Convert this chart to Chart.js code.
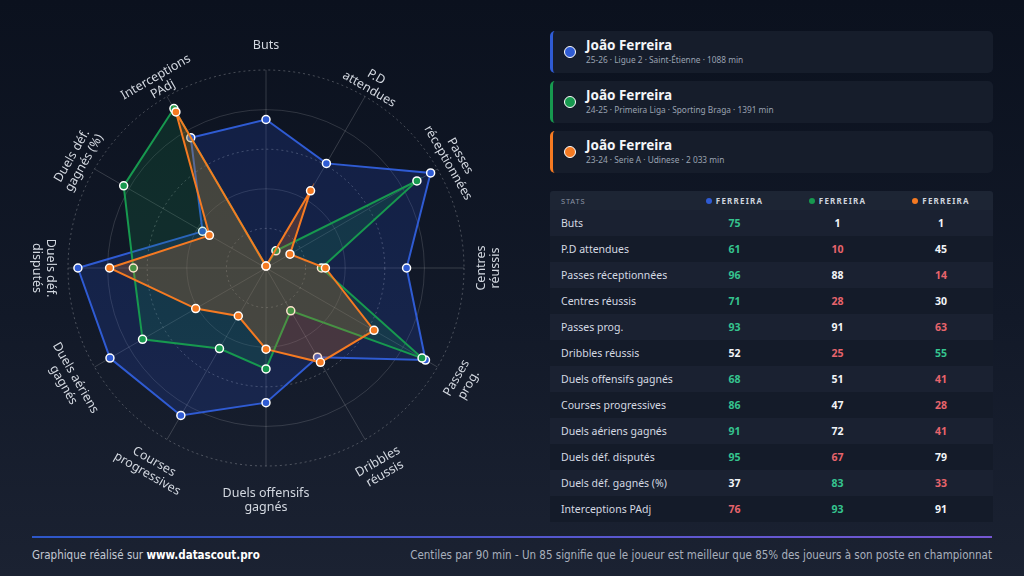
<!DOCTYPE html>
<html lang="fr">
<head>
<meta charset="utf-8">
<script src="https://cdn.jsdelivr.net/npm/chart.js@4.4.1/dist/chart.umd.min.js"></script>
<style>
    html, body { margin: 0; padding: 0; }
    body {
        width: 1024px; height: 576px; overflow: hidden; position: relative;
        background: linear-gradient(180deg, #0b111e 0%, #121928 55%, #1b2232 100%);
        font-family: "Noto Sans", "Open Sans", sans-serif; color: #e6e9ef;
    }
    #radarWrap { position: absolute; left: 0; top: 0; width: 533px; height: 533px; }
    .card {
        position: absolute; left: 550px; width: 443px; height: 42px;
        background: #161d2b; border-radius: 5px; border-left: 3px solid;
        box-sizing: border-box;
    }
    .card .dot {
        position: absolute; left: 11px; top: 15px; width: 10px; height: 10px;
        border-radius: 50%; border: 1.5px solid #fff;
    }
    .card .name { position: absolute; left: 33px; top: 5px; font-size: 13.5px; font-weight: 700; color: #f3f5f8; }
    .card .meta { position: absolute; left: 33px; top: 23px; font-size: 8.3px; color: #9aa2b1; }
    #table { position: absolute; left: 550px; top: 191px; width: 443px; }
    .row { display: grid; grid-template-columns: 133px 103px 103px 104px; height: 26px; align-items: center; }
    .row.head { height: 19px; background: #1d2534; border-radius: 3px 3px 0 0; }
    .row.odd { background: #1a2131; }
    .row.even { background: #141b29; }
    .row .lbl { padding-left: 11px; font-size: 10.5px; color: #d4d9e1; }
    .row .val { text-align: center; font-size: 10.5px; font-weight: 700; }
    .head .lbl { font-size: 7.5px; color: #8a93a3; letter-spacing: 0.8px; }
    .head .val { font-size: 8px; color: #cfd5de; letter-spacing: 1.2px; }
    .head .hdot { display: inline-block; width: 6px; height: 6px; border-radius: 50%; margin-right: 4px; vertical-align: 0px; }
    #rule {
        position: absolute; left: 32px; top: 536px; width: 960px; height: 2px;
        background: linear-gradient(90deg, #2d57c9, #7557d2);
    }
    .foot {
        position: absolute; top: 548px; font-family: "Liberation Sans Narrow", "DejaVu Sans Condensed", sans-serif;
        font-size: 11.5px; color: #c3c9d4;
    }
</style>
</head>
<body>
<div id="radarWrap"><canvas id="radar"></canvas></div>
<div id="cards"></div>
<div id="table"></div>
<div id="rule"></div>
<div class="foot" style="left:32px">Graphique réalisé sur <b style="color:#fff">www.datascout.pro</b></div>
<div class="foot" style="right:32px;color:#a9b0bd">Centiles par 90 min - Un 85 signifie que le joueur est meilleur que 85% des joueurs à son poste en championnat</div>

<script>
// Libellés des axes (sur deux lignes)
const axisLabels = [
    ['Buts'], ['P.D', 'attendues'], ['Passes', 'réceptionnées'], ['Centres', 'réussis'],
    ['Passes', 'prog.'], ['Dribbles', 'réussis'], ['Duels offensifs', 'gagnés'], ['Courses', 'progressives'],
    ['Duels aériens', 'gagnés'], ['Duels déf.', 'disputés'], ['Duels déf.', 'gagnés (%)'], ['Interceptions', 'PAdj']
];
const statNames = [
    'Buts', 'P.D attendues', 'Passes réceptionnées', 'Centres réussis', 'Passes prog.', 'Dribbles réussis',
    'Duels offensifs gagnés', 'Courses progressives', 'Duels aériens gagnés', 'Duels déf. disputés',
    'Duels déf. gagnés (%)', 'Interceptions PAdj'
];

// Centiles par saison
const stEtienne2526 = [75, 61, 96, 71, 93, 52, 68, 86, 91, 95, 37, 76];
const braga2425 = [1, 10, 88, 28, 91, 25, 51, 47, 72, 67, 83, 93];
const udinese2324 = [1, 45, 14, 30, 63, 55, 41, 28, 41, 79, 33, 91];

const playerNames = ['João Ferreira', 'João Ferreira', 'João Ferreira'];
const playerMeta = [
    '25-26 · Ligue 2 · Saint-Étienne · 1088 min',
    '24-25 · Primeira Liga · Sporting Braga · 1391 min',
    '23-24 · Serie A · Udinese · 2 033 min'
];
const headerNames = ['FERREIRA', 'FERREIRA', 'FERREIRA'];

const colors = ['#2f5bd3', '#17994f', '#f57a22'];
const fills = ['rgba(40, 80, 210, 0.20)', 'rgba(22, 150, 75, 0.18)', 'rgba(245, 122, 34, 0.22)'];
const drawOrder = [2, 1, 0]; // bleu en dessous, orange au-dessus
const series = [stEtienne2526, braga2425, udinese2324];

// Cartes joueurs
const cards = document.getElementById('cards');
playerNames.forEach((n, i) => {
    const c = document.createElement('div');
    c.className = 'card';
    c.style.top = (31 + i * 50) + 'px';
    c.style.borderLeftColor = colors[i];
    c.innerHTML = '<div class="dot" style="background:' + colors[i] + '"></div>' +
        '<div class="name">' + n + '</div><div class="meta">' + playerMeta[i] + '</div>';
    cards.appendChild(c);
});

// Tableau des stats
const table = document.getElementById('table');
let html = '<div class="row head"><div class="lbl">STATS</div>';
headerNames.forEach((h, i) => {
    html += '<div class="val"><span class="hdot" style="background:' + colors[i] + '"></span>' + h + '</div>';
});
html += '</div>';
statNames.forEach((s, r) => {
    const vals = series.map(d => d[r]);
    const max = Math.max(...vals), min = Math.min(...vals);
    const nMax = vals.filter(v => v === max).length;
    const nMin = vals.filter(v => v === min).length;
    html += '<div class="row ' + (r % 2 ? 'even' : 'odd') + '"><div class="lbl">' + s + '</div>';
    vals.forEach(v => {
        let col = '#f2f4f7';
        if (v === max && nMax === 1) col = '#35c48f';
        else if (v === min && nMin === 1) col = '#e7646c';
        html += '<div class="val" style="color:' + col + '">' + v + '</div>';
    });
    html += '</div>';
});
table.innerHTML = html;

// Libellés tournés autour du radar
const rotatedLabels = {
    id: 'rotatedLabels',
    afterDraw(chart) {
        const scale = chart.scales.r;
        const ctx = chart.ctx;
        ctx.save();
        ctx.font = '12.5px "Noto Sans"';
        ctx.fillStyle = '#d3d8e0';
        ctx.textAlign = 'center';
        ctx.textBaseline = 'middle';
        axisLabels.forEach((lines, i) => {
            const deg = i * 360 / axisLabels.length;
            const rad = deg * Math.PI / 180;
            const gap = 24 - 10 * Math.cos(rad) + (lines.length === 1 ? 11 : 0);
            const p = scale.getPointPosition(i, scale.drawingArea + gap);
            const rot = deg < 90 ? deg : (deg <= 270 ? deg - 180 : deg - 360);
            ctx.save();
            ctx.translate(p.x, p.y);
            ctx.rotate(rot * Math.PI / 180);
            lines.forEach((t, k) => ctx.fillText(t, 0, (k - (lines.length - 1) / 2) * 14));
            ctx.restore();
        });
        ctx.restore();
    }
};

const ctx = document.getElementById('radar').getContext('2d');
new Chart(ctx, {
    type: 'radar',
    data: {
        labels: statNames,
        datasets: series.map((d, i) => ({
            label: playerMeta[i],
            data: d,
            order: drawOrder[i],
            borderColor: colors[i],
            backgroundColor: fills[i],
            borderWidth: 2,
            fill: true,
            pointRadius: 4,
            pointBackgroundColor: colors[i],
            pointBorderColor: '#ffffff',
            pointBorderWidth: 1.5
        }))
    },
    options: {
        responsive: true,
        maintainAspectRatio: false,
        animation: false,
        layout: { padding: { top: 70, bottom: 66, left: 68, right: 68 } },
        plugins: { legend: { display: false }, tooltip: { enabled: false } },
        scales: {
            r: {
                min: 0, max: 100,
                ticks: { stepSize: 20, display: false },
                pointLabels: { display: false },
                angleLines: { color: 'rgba(255,255,255,0.17)', lineWidth: 1 },
                grid: {
                    color: c => c.index % 2 ? 'rgba(255,255,255,0.25)' : 'rgba(255,255,255,0.14)',
                    lineWidth: 1,
                    circular: true
                },
                border: { dash: c => c.index % 2 ? [2, 3] : [] }
            }
        }
    },
    plugins: [rotatedLabels]
});
</script>
</body>
</html>
